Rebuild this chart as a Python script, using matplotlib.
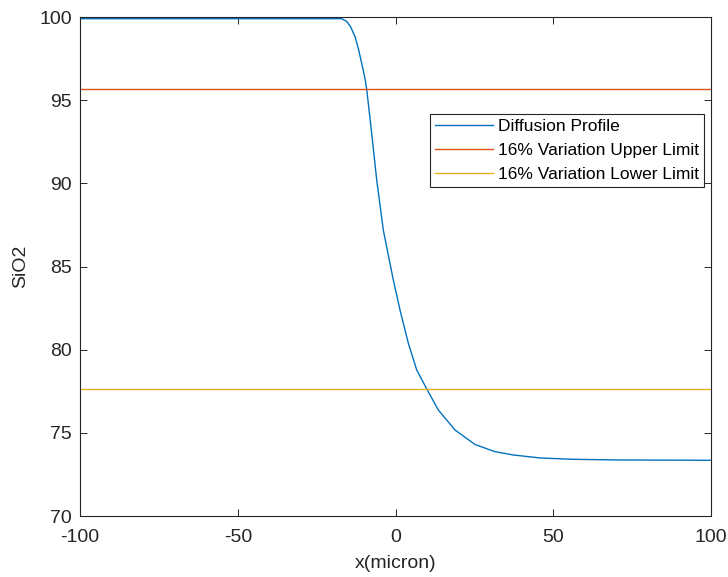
import matplotlib.pyplot as plt
import numpy as np

plt.rcParams['font.family'] = ['Liberation Sans', 'DejaVu Sans']
plt.rcParams['axes.unicode_minus'] = False

# diffusion profile
x = [-100, -60, -30, -17.07, -15.5, -14.2, -12.8, -11.78, -10.7, -9.67, -9.13,
     -7.67, -5.96, -3.87, -0.70, 1.43, 4.07, 6.72, 9.89, 13.58, 18.86, 25.2,
     31.5, 37.3, 45.8, 56.3, 70, 100]
sio2 = [99.9, 99.9, 99.9, 99.9, 99.74, 99.40, 98.80, 98.1, 97.2, 96.3, 95.65,
        93.21, 90.20, 87.19, 84.19, 82.38, 80.38, 78.78, 77.64, 76.37, 75.17, 74.3,
        73.87, 73.67, 73.49, 73.41, 73.37, 73.35]
upper = 95.65
lower = 77.64
labels = ['Diffusion Profile', '16% Variation Upper Limit', '16% Variation Lower Limit']

fig = plt.figure(figsize=(7.28, 5.77), dpi=100)
ax = fig.add_axes([0.1099, 0.1057, 0.8668, 0.8648])

ax.plot(x, sio2, color='#0072BD', lw=1.0, label=labels[0])
ax.axhline(upper, color='#D95319', lw=1.0, label=labels[1])
ax.axhline(lower, color='#EDB120', lw=1.0, label=labels[2])

ax.set_xlim(-100, 100)
ax.set_ylim(70, 100)
ax.set_xticks([-100, -50, 0, 50, 100])
ax.set_yticks([70, 75, 80, 85, 90, 95, 100])
ax.tick_params(direction='in', length=5, width=0.7, top=True, right=True,
               labelsize=14, colors='#262626')
ax.tick_params(axis='x', pad=9)
ax.tick_params(axis='y', pad=6)
for s in ax.spines.values():
    s.set_linewidth(0.8)
    s.set_color('#262626')
ax.set_xlabel('x(micron)', fontsize=14, color='#262626', labelpad=7)
ax.set_ylabel('SiO2', fontsize=14, color='#262626', labelpad=7)

leg = ax.legend(loc='upper right', bbox_to_anchor=(0.989, 0.806), fontsize=12.5,
                fancybox=False, framealpha=1, edgecolor='#262626',
                handlelength=3.3, handletextpad=0.3, borderpad=0.3,
                labelspacing=0.5, borderaxespad=0)
leg.get_frame().set_linewidth(0.8)

fig.savefig('out.png', dpi=100)
